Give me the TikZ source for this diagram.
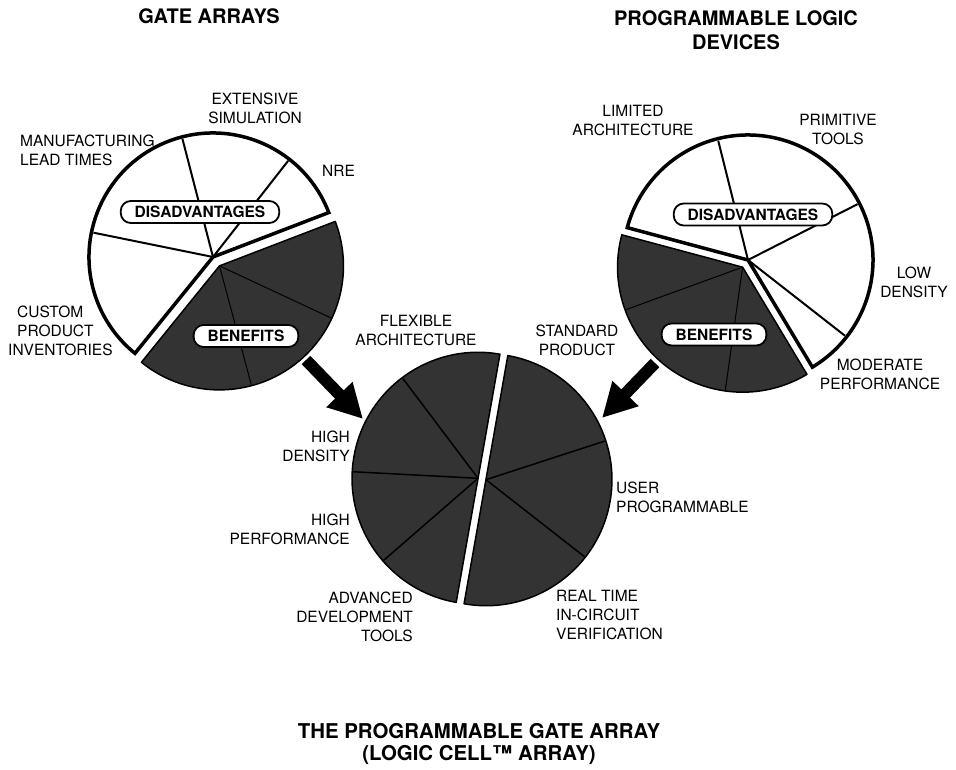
\documentclass[tikz,border=0pt]{standalone}
\usepackage{fontspec}
\setmainfont{TeX Gyre Heros}
\usetikzlibrary{positioning,arrows.meta}
\definecolor{benefitgray}{gray}{0.2}

\begin{document}
\begin{tikzpicture}[x=1pt,y=1pt,
    lbl/.style={inner sep=0pt,font=\fontsize{15.5}{19}\selectfont},
    hdr/.style={inner sep=0pt,align=center,font=\fontsize{20}{23.5}\selectfont\bfseries},
    disc/.style={draw=black,line width=3.5pt,fill=white},
    slice/.style={draw=black,line width=2pt},
    darkslice/.style={draw=black,line width=1.5pt,fill=benefitgray,line join=round},
    faint/.style={draw=black,line width=1pt},
    tagbox/.style={draw=black,line width=1.8pt,fill=white,rounded corners=10pt,
      inner xsep=14pt,inner ysep=0pt,minimum height=22pt,
      font=\fontsize{15.5}{19}\selectfont\bfseries},
    bigarrow/.style={line width=12pt,-{Triangle[width=34pt,length=34pt]}}]

\useasboundingbox (0,0) rectangle (956,770);

% Headings
\node[hdr] (gaHead) at (209,754) {GATE ARRAYS};
\node[hdr] (pldHead) at (736,740) {PROGRAMMABLE LOGIC\\DEVICES};

% Gate array pie
\coordinate (ga) at (213,513);
\coordinate (gaB) at ([shift={(306:11pt)}]ga);
\draw[disc] (ga) -- ++(21:124pt) arc[start angle=21,end angle=231,radius=124pt] -- cycle;
\foreach \a in {52,104.5,168.5}
  \draw[slice] (ga) -- ++(\a:122pt);
\draw[darkslice] (gaB) -- ++(231:124pt) arc[start angle=231,end angle=381,radius=124pt] -- cycle;
\foreach \a in {285,335}
  \draw[faint] (gaB) -- ++(\a:123pt);
\node[tagbox] (gaDis) at (200,558) {DISADVANTAGES};
\node[tagbox] (gaBen) at (246,434) {BENEFITS};

% Gate array labels
\node[lbl,align=center] (gaSim) at (255,662) {EXTENSIVE\\SIMULATION};
\node[lbl,align=left,anchor=west] (gaLead) at (20,620) {MANUFACTURING\\LEAD TIMES};
\node[lbl,anchor=west] (gaNre) at (322,599) {NRE};
\node[lbl,align=left,anchor=west] (gaInv) at (8,439) {\hspace*{9pt}CUSTOM\\\hspace*{9pt}PRODUCT\\INVENTORIES};

% PLD pie
\coordinate (pd) at (748,510);
\coordinate (pdB) at ([shift={(233:9pt)}]pd);
\draw[disc] (pd) -- ++(-59:125pt) arc[start angle=-59,end angle=165,radius=125pt] -- cycle;
\foreach \a in {104,27,-38}
  \draw[slice] (pd) -- ++(\a:123pt);
\draw[darkslice] (pdB) -- ++(165:125pt) arc[start angle=165,end angle=301,radius=125pt] -- cycle;
\foreach \a in {200,262}
  \draw[faint] (pdB) -- ++(\a:124pt);
\node[tagbox] (pdDis) at (753,555.5) {DISADVANTAGES};
\node[tagbox] (pdBen) at (714,435.5) {BENEFITS};

% PLD labels
\node[lbl,align=center] (pdArch) at (633,649) {LIMITED\\ARCHITECTURE};
\node[lbl,align=center] (pdTools) at (838,640) {PRIMITIVE\\TOOLS};
\node[lbl,align=center] (pdDens) at (914,488) {LOW\\DENSITY};
\node[lbl,align=center] (pdPerf) at (880,396) {MODERATE\\PERFORMANCE};

% Logic cell array pie
\coordinate (lca) at (482,291);
\coordinate (lcaL) at ([shift={(170:4pt)}]lca);
\coordinate (lcaR) at ([shift={(-10:4pt)}]lca);
\draw[darkslice] (lcaL) -- ++(80:126pt) arc[start angle=80,end angle=260,radius=126pt] -- cycle;
\draw[darkslice] (lcaR) -- ++(-100:126pt) arc[start angle=-100,end angle=80,radius=126pt] -- cycle;
\foreach \a in {127,177,221}
  \draw[line width=1.5pt] (lcaL) -- ++(\a:125pt);
\foreach \a in {18,-38}
  \draw[line width=1.5pt] (lcaR) -- ++(\a:125pt);

% Logic cell array labels
\node[lbl,align=center] (lcaFlex) at (416,440) {FLEXIBLE\\ARCHITECTURE};
\node[lbl,align=center] (lcaStd) at (577,430) {STANDARD\\PRODUCT};
\node[lbl,align=right,anchor=east] (lcaDens) at (350,324) {HIGH\\DENSITY};
\node[lbl,align=right,anchor=east] (lcaPerf) at (350,241) {HIGH\\PERFORMANCE};
\node[lbl,align=right,anchor=east] (lcaTools) at (413,153) {ADVANCED\\DEVELOPMENT\\TOOLS};
\node[lbl,align=left,anchor=west] (lcaUser) at (616,273) {USER\\PROGRAMMABLE};
\node[lbl,align=left,anchor=west] (lcaReal) at (556,155) {REAL TIME\\IN-CIRCUIT\\VERIFICATION};

% Arrows into the middle pie
\coordinate (gaTail) at (306,410);
\coordinate (gaTip) at (363,351);
\coordinate (pdTail) at (655,407);
\coordinate (pdTip) at (602,352);
\draw[bigarrow] (gaTail) -- (gaTip);
\draw[bigarrow] (pdTail) -- (pdTip);

% Title
\node[hdr,font=\fontsize{20.4}{17.5}\selectfont\bfseries,anchor=base] (title) at (479,31)
  {THE PROGRAMMABLE GATE ARRAY};
\node[hdr,font=\fontsize{20.4}{17.5}\selectfont\bfseries,anchor=base] (subtitle) at (479,9)
  {(LOGIC CELL\texttrademark{} ARRAY)};
\end{tikzpicture}
\end{document}
